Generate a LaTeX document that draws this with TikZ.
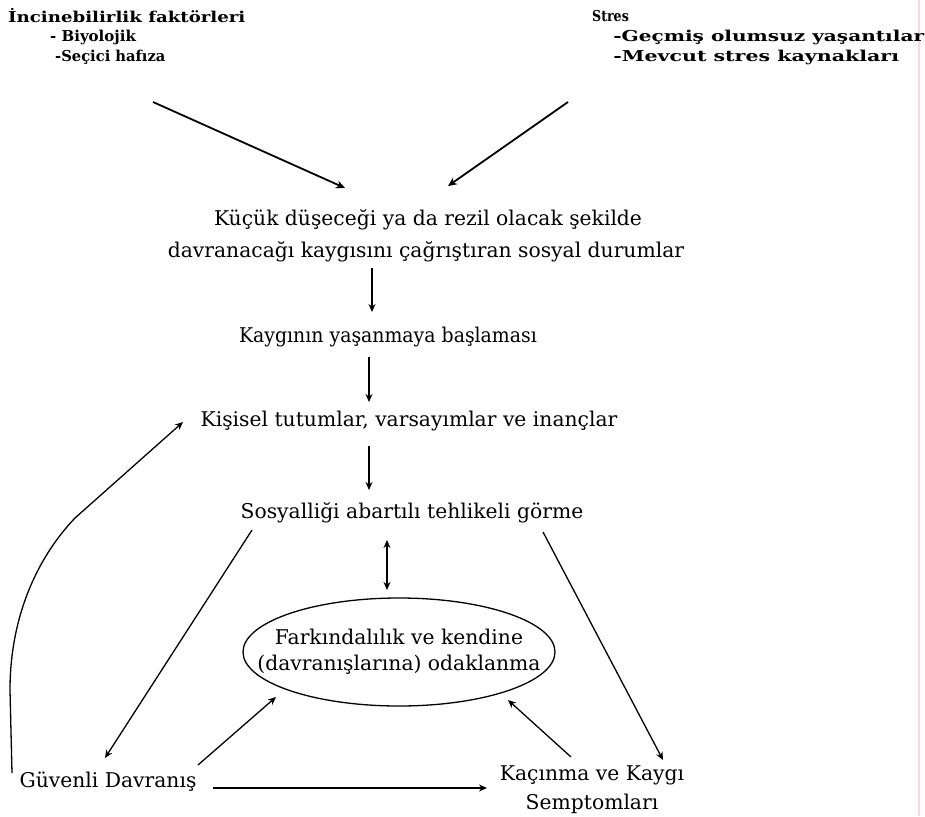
\documentclass[tikz,border=0pt]{standalone}
\usepackage{fontspec}
\setmainfont{DejaVu Serif}
\usetikzlibrary{arrows.meta,shapes.geometric}
\begin{document}
\begin{tikzpicture}[x=1pt,y=-1pt,
  toptext/.style={inner sep=0pt,anchor=west,font=\fontsize{15}{18}\selectfont\bfseries},
  midtext/.style={inner sep=0pt,font=\fontsize{20.3}{29}\selectfont},
  arr/.style={-{Stealth[length=8pt,width=7pt]},line width=1.3pt},
  boldarr/.style={-{Stealth[length=9pt,width=8pt]},line width=1.8pt},
  dblarr/.style={{Stealth[length=8pt,width=7pt]}-{Stealth[length=8pt,width=7pt]},line width=1.3pt}]
\useasboundingbox (0,0) rectangle (925,816);
\fill[white] (0,0) rectangle (925,816);
% faint margin rule on the right
\draw[red!15,line width=1.2pt] (919,0) -- (919,816);

% top factors
\node[toptext,xscale=1.21] (inc) at (8,16) {İncinebilirlik faktörleri};
\node[toptext] (biy) at (50,37) {- Biyolojik};
\node[toptext,xscale=0.98] (sec) at (55,57) {-Seçici hafıza};
\node[toptext,xscale=0.84] (str) at (592,16) {Stres};
\node[toptext,xscale=1.34] (gec) at (613,37) {-Geçmiş olumsuz yaşantılar};
\node[toptext,xscale=1.37] (mev) at (613,57) {-Mevcut stres kaynakları};

% main chain
\node[midtext] (k1) at (428,220) {Küçük düşeceği ya da rezil olacak şekilde};
\node[midtext] (k2) at (426,252) {davranacağı kaygısını çağrıştıran sosyal durumlar};
\node[midtext,xscale=0.93] (kay) at (388,337) {Kaygının yaşanmaya başlaması};
\node[midtext] (kis) at (409,421) {Kişisel tutumlar, varsayımlar ve inançlar};
\node[midtext] (sos) at (412,513) {Sosyalliği abartılı tehlikeli görme};
\node[draw,ellipse,line width=1.3pt,minimum width=312pt,minimum height=108pt,inner sep=0pt] (far) at (399,652) {};
\node[midtext,align=center,font=\fontsize{20.3}{26}\selectfont] (fartext) at (far.center)
  {Farkındalılık ve kendine\\(davranışlarına) odaklanma};
\node[midtext] (guv) at (108,782) {Güvenli Davranış};
\node[midtext,align=center] (kac) at (592,790) {Kaçınma ve Kaygı\\Semptomları};

% connector end points
\coordinate (incout) at (153,102);
\coordinate (kinl) at (345,188);
\coordinate (strout) at (568,102);
\coordinate (kinr) at (448,186);
\coordinate (k2out) at (372,268);
\coordinate (kayin) at (372,312);
\coordinate (kayout) at (369,357);
\coordinate (kisin) at (369,402);
\coordinate (kisout) at (369,446);
\coordinate (sosin) at (369,490);
\coordinate (sosout) at (387,540);
\coordinate (fartop) at (387,590);
\coordinate (farbl) at (276,697);
\coordinate (farbr) at (508,700);
\coordinate (guvup) at (198,765);
\coordinate (kacup) at (571,757);
\coordinate (soslow) at (252,530);
\coordinate (sosrow) at (543,532);
\coordinate (guvtop) at (105,758);
\coordinate (kactop) at (663,760);
\coordinate (guvright) at (213,788);
\coordinate (kacleft) at (487,788);
\coordinate (kisleft) at (183,422);
\coordinate (guvfoot) at (12,773);

% arrows
\draw[boldarr] (incout) -- (kinl);
\draw[boldarr] (strout) -- (kinr);
\draw[arr] (k2out) -- (kayin);
\draw[arr] (kayout) -- (kisin);
\draw[arr] (kisout) -- (sosin);
\draw[dblarr] (sosout) -- (fartop);
\draw[arr] (soslow) -- (guvtop);
\draw[arr] (sosrow) -- (kactop);
\draw[arr] (guvup) -- (farbl);
\draw[arr] (kacup) -- (farbr);
\draw[arr] (guvright) -- (kacleft);
\draw[arr] (guvfoot) -- (10,690) .. controls (10,620) and (35,560) .. (75,518) -- (kisleft);
\end{tikzpicture}
\end{document}
